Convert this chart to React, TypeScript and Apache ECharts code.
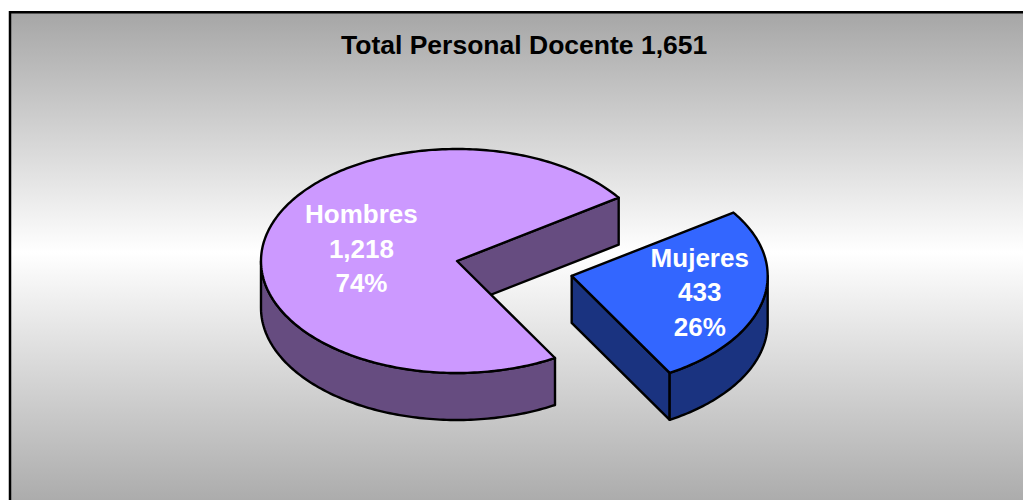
import React, { useEffect, useRef } from "react";
import * as echarts from "echarts";

const categories = ["Hombres", "Mujeres"];
const values = [1218, 433];
const titlePrefix = "Total Personal Docente";

const topColors = ["#CC99FF", "#3366FF"];
const sideColors = ["#664C80", "#1A3380"];
const explodeFrac = [0, 0.6];
const labelRadius = [0.5, 0.67];

const FONT = "'Liberation Sans', Arial, Helvetica, sans-serif";
const fmt = (n: number) => n.toLocaleString("en-US");

// pie geometry (style)
const CX = 457;
const CY = 261;
const RX = 196;
const RY = 112;
const DEPTH = 47;
const START = 60;

export default function App() {
  const ref = useRef<HTMLDivElement>(null);
  useEffect(() => {
    if (!ref.current) return;
    const chart = echarts.init(ref.current, null, { renderer: "svg" });
    const total = values.reduce((a, b) => a + b, 0);
    const cum: number[] = [];
    let acc = 0;
    values.forEach((v) => {
      cum.push(acc);
      acc += v;
    });
    const rad = (d: number) => (d * Math.PI) / 180;

    const renderItem = (params: any) => {
      const i = params.dataIndex;
      const a0 = START + (cum[i] / total) * 360;
      const a1 = START + ((cum[i] + values[i]) / total) * 360;
      const mid = (a0 + a1) / 2;
      const x0 = CX + explodeFrac[i] * RX * Math.cos(rad(mid));
      const y0 = CY + explodeFrac[i] * RY * Math.sin(rad(mid));
      const pt = (t: number, dy: number) => [
        x0 + RX * Math.cos(rad(t)),
        y0 + RY * Math.sin(rad(t)) + dy,
      ];
      const arc = (s: number, e: number, dy: number) => {
        const pts: number[][] = [];
        const n = Math.max(2, Math.ceil(Math.abs(e - s)));
        for (let k = 0; k <= n; k++) pts.push(pt(s + ((e - s) * k) / n, dy));
        return pts;
      };
      const stroke = { stroke: "#000", lineWidth: 2.4, lineJoin: "round" };
      const children: any[] = [];
      // radial faces
      if (Math.cos(rad(a0)) < 0) {
        const p = pt(a0, 0);
        const q = pt(a0, DEPTH);
        children.push({
          type: "polygon",
          shape: { points: [[x0, y0], p, q, [x0, y0 + DEPTH]] },
          style: { fill: sideColors[i], ...stroke },
        });
      }
      if (Math.cos(rad(a1)) > 0) {
        const p = pt(a1, 0);
        const q = pt(a1, DEPTH);
        children.push({
          type: "polygon",
          shape: { points: [[x0, y0], p, q, [x0, y0 + DEPTH]] },
          style: { fill: sideColors[i], ...stroke },
        });
      }
      // outer curved side (front half only)
      for (let k = -1; k <= 2; k++) {
        const s = Math.max(a0, k * 360);
        const e = Math.min(a1, k * 360 + 180);
        if (e > s) {
          const pts = arc(s, e, 0).concat(arc(e, s, DEPTH));
          children.push({
            type: "polygon",
            shape: { points: pts },
            style: { fill: sideColors[i], ...stroke },
          });
        }
      }
      // top face
      children.push({
        type: "polygon",
        shape: { points: [[x0, y0]].concat(arc(a0, a1, 0)) },
        style: { fill: topColors[i], ...stroke },
      });
      // label
      const lr = labelRadius[i];
      children.push({
        type: "text",
        x: x0 + lr * RX * Math.cos(rad(mid)),
        y: y0 + lr * RY * Math.sin(rad(mid)),
        style: {
          text: `${categories[i]}\n${fmt(values[i])}\n${Math.round((values[i] / total) * 100)}%`,
          fill: "#fff",
          fontSize: 26,
          fontWeight: "bold",
          fontFamily: FONT,
          align: "center",
          verticalAlign: "middle",
          lineHeight: 34.5,
        },
      });
      return { type: "group", children };
    };

    chart.setOption({
      animation: false,
      title: {
        text: `${titlePrefix} ${fmt(total)}`,
        left: 341,
        top: 31,
        padding: 0,
        textStyle: {
          fontSize: 26.5,
          fontWeight: "bold",
          color: "#000",
          fontFamily: FONT,
        },
      },
      graphic: [
        {
          type: "rect",
          z: -10,
          shape: { x: 10, y: 12.2, width: 1030, height: 500 },
          style: {
            fill: new echarts.graphic.LinearGradient(0, 0, 0, 1, [
              { offset: 0, color: "#a6a6a6" },
              { offset: 0.48, color: "#ffffff" },
              { offset: 1, color: "#a8a8a8" },
            ]),
            stroke: "#000",
            lineWidth: 2.5,
          },
        },
      ],
      series: [
        {
          type: "custom",
          coordinateSystem: "none",
          renderItem,
          data: values.map((v, i) => ({ name: categories[i], value: v })),
        },
      ],
    });
    return () => chart.dispose();
  }, []);
  return (
    <div
      ref={ref}
      style={{ position: "absolute", left: 0, top: 0, width: 1023, height: 500 }}
    />
  );
}
